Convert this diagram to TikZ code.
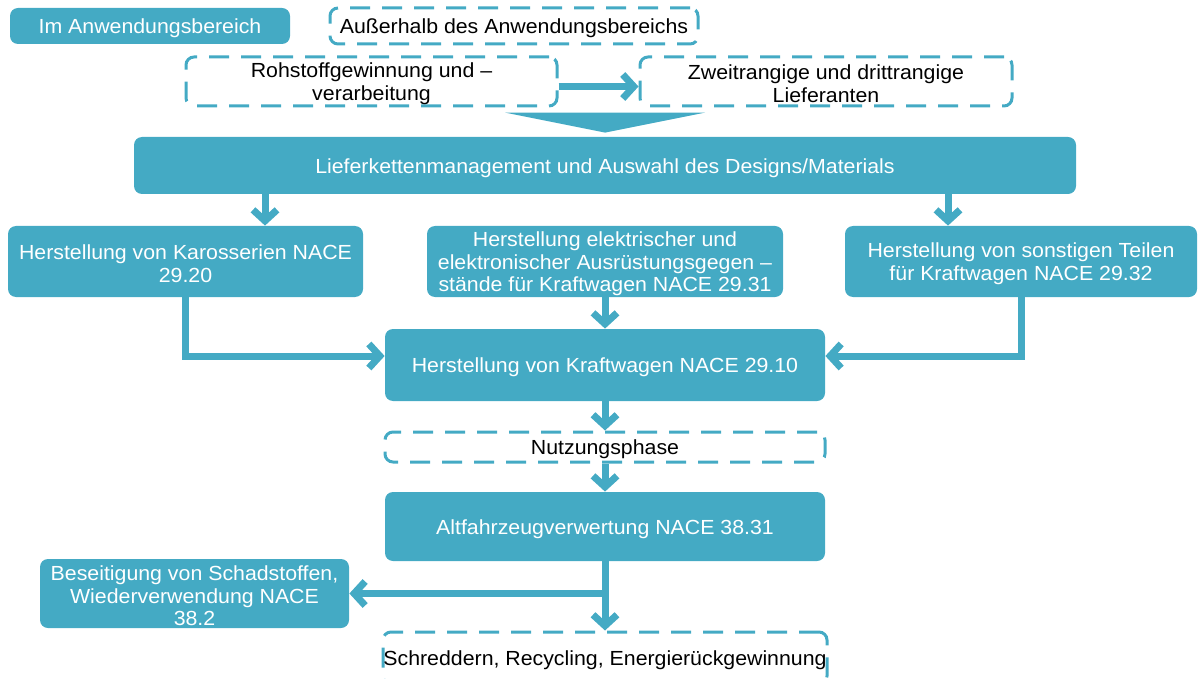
\documentclass[tikz,border=0pt]{standalone}
\usepackage{fontspec}
\setmainfont[FakeStretch=1.045]{Liberation Sans}
\usetikzlibrary{calc,arrows.meta}
\definecolor{nacetuerkis}{RGB}{68,170,196}
\tikzset{x=0.5pt, y=-0.5pt,
  im bereich/.style={fill=nacetuerkis, rounded corners=4pt, inner sep=0pt},
  ausser bereich/.style={draw=nacetuerkis, line width=1.5pt,
           dash pattern=on 10pt off 6pt, rounded corners=4pt, inner sep=0pt},
  im bereich text/.style={text=white, align=center, inner sep=0pt,
           font=\fontsize{10.2}{11.4}\selectfont},
  ausser bereich text/.style={text=black, align=center, inner sep=0pt,
           font=\fontsize{10.2}{11.4}\selectfont},
  pfeil/.style={draw=nacetuerkis, line width=3.5pt,
           -{Straight Barb[length=5.5pt,width=12pt,line cap=butt,line join=miter]}}
}
\def\Feld#1#2#3#4#5#6#7{%
  \node (#1) [#2, minimum width=#5*0.5pt, minimum height=#6*0.5pt] at (#3,#4) {};
  \node (#1-t) [#2 text] at ([yshift=-1.2pt]#1.center) {#7};
}
\begin{document}
\begin{tikzpicture}
\useasboundingbox (0,0) rectangle (1198,679);
% Legende
\Feld{inb}{im bereich}{150}{26}{280}{36}{Im Anwendungsbereich}
\Feld{ausb}{ausser bereich}{514}{26}{368}{36}{Außerhalb des Anwendungsbereichs}
% vorgelagerte Stufen
\Feld{roh}{ausser bereich}{371.5}{81.5}{371}{49}{Rohstoffgewinnung und –\\verarbeitung}
\Feld{zweit}{ausser bereich}{826}{81.5}{372}{49}{Zweitrangige und drittrangige\\Lieferanten}
\Feld{lief}{im bereich}{605}{165.5}{942}{57}{Lieferkettenmanagement und Auswahl des Designs/Materials}
% Herstellung
\Feld{karo}{im bereich}{185.5}{261.5}{355}{71}{Herstellung von Karosserien NACE\\29.20}
\Feld{elek}{im bereich}{605}{261.5}{356}{71}{Herstellung elektrischer und\\elektronischer Ausrüstungsgegen –\\stände für Kraftwagen NACE 29.31}
\Feld{sonst}{im bereich}{1021}{261.5}{352}{71}{Herstellung von sonstigen Teilen\\für Kraftwagen NACE 29.32}
\Feld{kraft}{im bereich}{605}{365}{440}{72}{Herstellung von Kraftwagen NACE 29.10}
% Nutzung und Verwertung
\Feld{nutz}{ausser bereich}{605}{447}{440}{30}{Nutzungsphase}
\Feld{alt}{im bereich}{605}{526.5}{440}{69}{Altfahrzeugverwertung NACE 38.31}
\Feld{bes}{im bereich}{194.5}{593.5}{309}{69}{Beseitigung von Schadstoffen,\\Wiederverwendung NACE\\38.2}
\Feld{schr}{ausser bereich}{605}{658}{444}{52}{Schreddern, Recycling, Energierückgewinnung}

\coordinate (kx) at (265,0);
\coordinate (sx) at (948,0);
\fill[nacetuerkis] ($(lief.north)+(-100,-24)$) -- ($(lief.north)+(100,-24)$)
   -- ($(lief.north)+(0,-4)$) -- cycle;
\draw[pfeil] ([yshift=-2.5pt]roh.east) -- ([yshift=-2.5pt]zweit.west);
\draw[pfeil] (lief.south -| kx) -- (karo.north -| kx);
\draw[pfeil] (lief.south -| sx) -- (sonst.north -| sx);
\draw[pfeil] (karo.south) |- ([yshift=4.5pt]kraft.west);
\draw[pfeil] (sonst.south) |- ([yshift=4.5pt]kraft.east);
\draw[pfeil] (elek.south) -- (kraft.north);
\draw[pfeil] (kraft.south) -- (nutz.north);
\draw[pfeil] (nutz.south) -- (alt.north);
\draw[pfeil] (alt.south) -- (schr.north);
\draw[pfeil] (alt.south |- bes.east) -- (bes.east);
\end{tikzpicture}
\end{document}
